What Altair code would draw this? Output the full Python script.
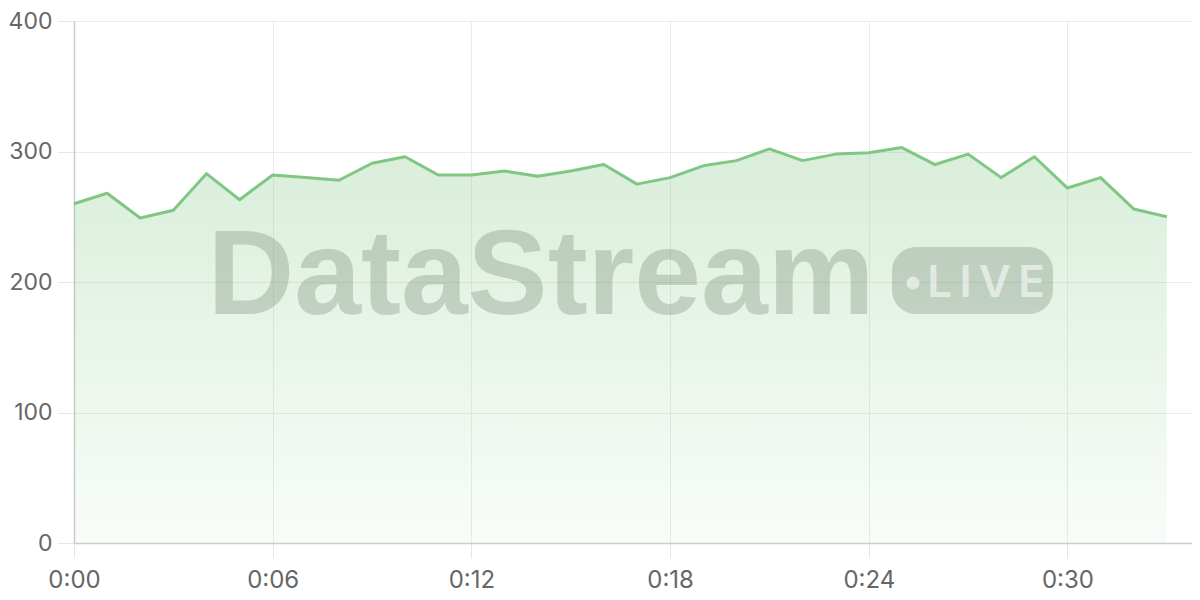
import altair as alt
import pandas as pd

minutes = list(range(34))
values = [260, 268, 249, 255, 283, 263, 282, 280, 278, 291, 296, 282, 282, 285, 281,
          285, 290, 275, 280, 289, 293, 302, 293, 298, 299, 303, 290, 298, 280, 296,
          272, 280, 256, 250]
x_ticks = [0, 6, 12, 18, 24, 30]
y_ticks = [0, 100, 200, 300, 400]
watermark = ["DataStream"]
badge = ["L\u2009I\u2009V\u2009E"]

df = pd.DataFrame({"minute": minutes, "value": values})

LINE = "#81c784"
FONT = "Inter"

x_enc = alt.X("minute:Q", scale=alt.Scale(domain=[0, 33.76], nice=False, zero=True),
              axis=alt.Axis(values=x_ticks, title=None, labelFlush=False,
                            labelExpr="'0:' + (datum.value < 10 ? '0' + datum.value : datum.value)"))
y_enc = alt.Y("value:Q", scale=alt.Scale(domain=[0, 400], nice=False),
              axis=alt.Axis(values=y_ticks, title=None, labelFlush=False))

base = alt.Chart(df)

area = base.mark_area(
    color=alt.Gradient(
        gradient="linear",
        stops=[alt.GradientStop(color="rgba(129,199,132,0.30)", offset=0),
               alt.GradientStop(color="rgba(129,199,132,0.05)", offset=1)],
        x1=1, x2=1, y1=0, y2=1),
).encode(x=x_enc, y=y_enc)

line = base.mark_line(color=LINE, strokeWidth=3, strokeJoin="round").encode(x=x_enc, y=y_enc)

wm = alt.Chart(pd.DataFrame({"t": watermark})).mark_text(
    font="Liberation Sans", fontWeight="bold", fontSize=120, align="center",
    baseline="alphabetic", color="#5a6e5a", opacity=0.26
).encode(text="t:N", x=alt.value(467), y=alt.value(293))

badge_rect = alt.Chart(pd.DataFrame({"t": badge})).mark_rect(
    cornerRadius=24, color="#5a6e5a", opacity=0.26
).encode(x=alt.value(818), x2=alt.value(979), y=alt.value(226), y2=alt.value(293))

badge_dot = alt.Chart(pd.DataFrame({"t": badge})).mark_circle(
    size=170, color="#ffffff", opacity=0.55
).encode(x=alt.value(839), y=alt.value(262))

badge_text = alt.Chart(pd.DataFrame({"t": badge})).mark_text(
    font="Inter", fontWeight=600, fontSize=44, align="center",
    baseline="alphabetic", color="#ffffff", opacity=0.55
).encode(text="t:N", x=alt.value(912), y=alt.value(276))

chart = alt.layer(area, line, wm, badge_rect, badge_dot, badge_text).properties(
    width=1118, height=522,
    autosize=alt.AutoSizeParams(type="none"),
    padding={"left": 66, "top": 13, "right": 0, "bottom": 49},
    background="#ffffff",
).configure_view(stroke=None).configure_axis(
    labelFont=FONT, labelFontSize=24, labelColor="#666666",
    gridColor="#ebebeb", gridWidth=1,
    domainColor="#cccccc", domainWidth=1.5,
    tickColor="#e6e6e6", tickSize=15, tickWidth=1,
).configure_axisX(labelPadding=10).configure_axisY(labelPadding=6, tickSize=16, labelFontSize=23)

chart.save("out.html", embed_options={"renderer": "svg", "actions": False})
